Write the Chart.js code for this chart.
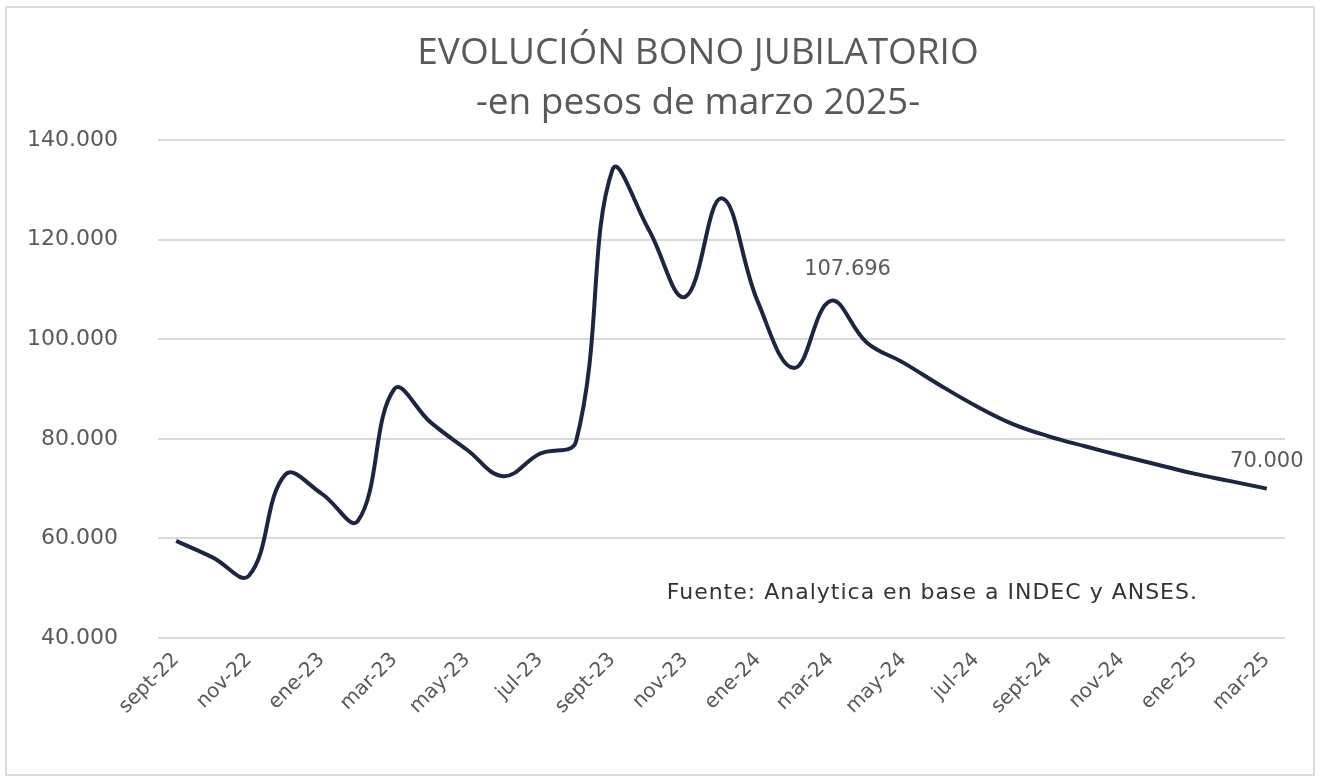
<!DOCTYPE html>
<html>
<head>
<meta charset="utf-8">
<script src="https://cdn.jsdelivr.net/npm/chart.js@4.4.1/dist/chart.umd.min.js"></script>
<style>
  body { margin: 0; background: #fff; }
  #frame { position: absolute; left: 5px; top: 6px; width: 1306px; height: 766px; border: 2px solid #dcdcdc; }
  canvas { position: absolute; left: 0; top: 0; }
</style>
</head>
<body>
<div id="frame"></div>
<canvas id="bonoChart" width="1326" height="780"></canvas>
<script>
const titleLines = ["EVOLUCIÓN BONO JUBILATORIO", "-en pesos de marzo 2025-"];
const sourceNote = "Fuente: Analytica en base a INDEC y ANSES.";

const months = [
  "sept-22", "oct-22", "nov-22", "dic-22", "ene-23", "feb-23", "mar-23", "abr-23",
  "may-23", "jun-23", "jul-23", "ago-23", "sept-23", "oct-23", "nov-23", "dic-23",
  "ene-24", "feb-24", "mar-24", "abr-24", "may-24", "jun-24", "jul-24", "ago-24",
  "sept-24", "oct-24", "nov-24", "dic-24", "ene-25", "feb-25", "mar-25"
];

const bonoValues = [
  59500, 56200, 52500, 72800, 69000, 63500, 90000, 83300,
  77800, 72500, 77000, 79500, 134000, 122000, 108500, 128300,
  107500, 94200, 107696, 99300, 95300, 90800, 86600, 83000,
  80500, 78500, 76600, 74800, 73000, 71500, 70000
];

const yMin = 40000;
const yMax = 140000;
const yStep = 20000;

// indices of the points that carry a value label
const labelledPoints = [18, 30];

const titleFont = "'Open Sans', 'Noto Sans', sans-serif";
const bodyFont = "'DejaVu Sans', sans-serif";
const textGrey = "#595959";

const formatMiles = (n) => String(Math.round(n)).replace(/\B(?=(\d{3})+(?!\d))/g, ".");

const notesPlugin = {
  id: "notes",
  afterDatasetsDraw(chart) {
    const { ctx, scales } = chart;
    ctx.save();
    ctx.textAlign = "center";
    ctx.textBaseline = "middle";

    // title, a bit right of the canvas centre like the original
    ctx.font = "37px " + titleFont;
    ctx.fillStyle = textGrey;
    const cx = chart.width / 2 + 35;
    ctx.fillText(titleLines[0], cx, 53);
    ctx.fillText(titleLines[1], cx, 103);

    ctx.font = "21px " + bodyFont;
    labelledPoints.forEach((i) => {
      const x = scales.x.getPixelForValue(i);
      const y = scales.y.getPixelForValue(bonoValues[i]);
      const last = i === months.length - 1;
      ctx.fillText(formatMiles(bonoValues[i]), x + (last ? 0 : 17), y + (last ? -27 : -31));
    });

    ctx.font = "22px " + bodyFont;
    ctx.letterSpacing = "1px";
    ctx.fillStyle = "#333333";
    ctx.fillText(sourceNote, scales.x.getPixelForValue(20.8), scales.y.getPixelForValue(49000));
    ctx.restore();
  }
};

new Chart(document.getElementById("bonoChart"), {
  type: "line",
  data: {
    labels: months,
    datasets: [
      {
        label: "Bono jubilatorio",
        data: bonoValues,
        borderColor: "#1c2640",
        borderWidth: 4,
        pointRadius: 0,
        tension: 0.4,
        fill: false,
      },
    ],
  },
  options: {
    responsive: false,
    animation: false,
    layout: { padding: { top: 140, right: 41, bottom: 0, left: 0 } },
    plugins: {
      legend: { display: false },
      tooltip: { enabled: false },
      title: { display: false },
    },
    scales: {
      x: {
        offset: true,
        grid: { display: false },
        border: { display: false },
        ticks: {
          autoSkip: false,
          maxRotation: 45,
          minRotation: 45,
          padding: 2,
          color: textGrey,
          font: { family: bodyFont, size: 20 },
          callback: (value, index) => (index % 2 === 0 ? months[index] : ""),
        },
        afterFit: (scale) => { scale.height = 142; },
      },
      y: {
        min: yMin,
        max: yMax,
        border: { display: false },
        grid: { color: "#d9d9d9", lineWidth: 2, drawTicks: false },
        ticks: {
          stepSize: yStep,
          padding: 40,
          color: textGrey,
          font: { family: bodyFont, size: 22 },
          callback: (value) => formatMiles(value),
        },
        afterFit: (scale) => { scale.width = 158; },
      },
    },
  },
  plugins: [notesPlugin],
});
</script>
</body>
</html>
